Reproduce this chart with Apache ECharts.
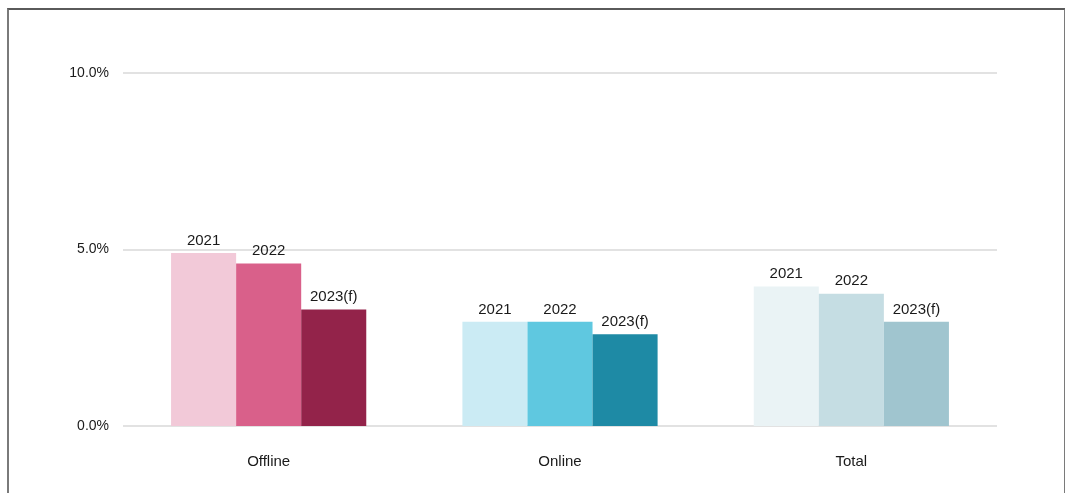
<!DOCTYPE html>
<html>
<head>
<meta charset="utf-8">
<script src="https://cdn.jsdelivr.net/npm/echarts@6/dist/echarts.min.js"></script>
<style>
  html, body { margin: 0; padding: 0; background: #fff; }
  #frame {
    position: absolute; left: 7px; top: 8px; width: 1055px; height: 490px;
    border-top: 2px solid #5a5a5a; border-left: 2px solid #7a7a7a; border-right: 2px solid #7a7a7a;
  }
  #chart { position: absolute; left: 0; top: 0; width: 1065px; height: 493px; }
</style>
</head>
<body>
<div id="frame"></div>
<div id="chart"></div>
<script>
// Growth rates by channel (%)
const categories = ['Offline', 'Online', 'Total'];
const seriesNames = ['2021', '2022', '2023(f)'];
const values2021 = [4.9, 2.95, 3.95];
const values2022 = [4.6, 2.95, 3.75];
const values2023f = [3.3, 2.6, 2.95];
const yTicks = [0, 5, 10];

// each channel has its own shade ramp, one shade per year
const palette = [
  ['#F2C9D8', '#D9608A', '#93234A'],
  ['#CBEBF4', '#5FC8E0', '#1E8AA5'],
  ['#EAF3F5', '#C5DDE3', '#A0C5CF']
];

const allValues = [values2021, values2022, values2023f];
const font = '"Liberation Sans", Arial, sans-serif';

const series = seriesNames.map((name, si) => ({
  name,
  type: 'bar',
  barGap: 0,
  barCategoryGap: '33%',
  data: allValues[si].map((v, ci) => ({ value: v, itemStyle: { color: palette[ci][si] } })),
  label: {
    show: true, position: 'top', distance: 5,
    formatter: () => name,
    color: '#1a1a1a', fontSize: 15, fontFamily: font
  }
}));

const chart = echarts.init(document.getElementById('chart'));
chart.setOption({
  animation: false,
  grid: { left: 123, right: 68, top: 73, bottom: 67, containLabel: false },
  xAxis: {
    type: 'category',
    data: categories,
    axisLine: { show: false },
    axisTick: { show: false },
    axisLabel: { color: '#1a1a1a', fontSize: 15, fontFamily: font, margin: 28 }
  },
  yAxis: {
    type: 'value',
    min: yTicks[0], max: yTicks[yTicks.length - 1], interval: yTicks[1] - yTicks[0],
    axisLine: { show: false },
    axisTick: { show: false },
    axisLabel: { color: '#1a1a1a', fontSize: 14, fontFamily: font, margin: 14,
      formatter: v => v.toFixed(1) + '%' },
    splitLine: { lineStyle: { color: '#e2e2e2', width: 2 } }
  },
  series
});
</script>
</body>
</html>
